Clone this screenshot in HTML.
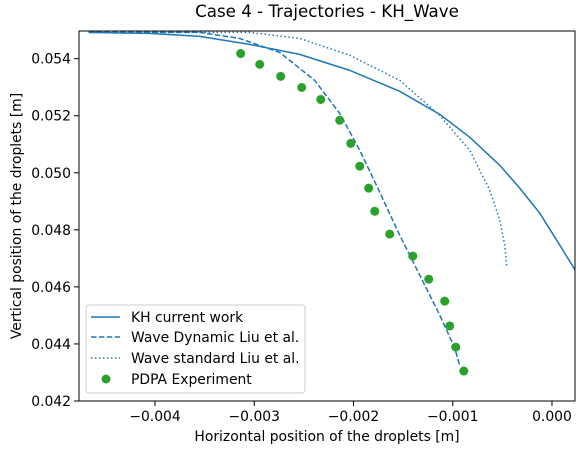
<!DOCTYPE html>
<html><head><meta charset="utf-8"><style>
body{margin:0;background:#fff;}
svg{display:block;font-family:"DejaVu Sans","Liberation Sans",sans-serif;}
</style></head><body>
<svg id="chart" width="585" height="453">
<text x="327" y="17" font-size="16.7" text-anchor="middle">Case 4 - Trajectories - KH_Wave</text>
<text x="327" y="441" font-size="13.9" text-anchor="middle">Horizontal position of the droplets [m]</text>
<text transform="translate(21,216) rotate(-90)" font-size="13.9" text-anchor="middle">Vertical position of the droplets [m]</text>
<g id="plot"></g>
<g font-size="13.9">
<rect x="86" y="305" width="219" height="88" rx="3" fill="#fff" fill-opacity="0.8" stroke="#ccc"/>
<line x1="91" y1="317" x2="120" y2="317" stroke="#1f77b4" stroke-width="1.5"/>
<text x="131" y="322">KH current work</text>
<line x1="91" y1="337" x2="120" y2="337" stroke="#1f77b4" stroke-width="1.5" stroke-dasharray="5.5 2.4"/>
<text x="131" y="342">Wave Dynamic Liu et al.</text>
<line x1="91" y1="358" x2="120" y2="358" stroke="#1f77b4" stroke-width="1.5" stroke-dasharray="1.5 2.5"/>
<text x="131" y="363">Wave standard Liu et al.</text>
<circle cx="106" cy="379" r="4.5" fill="#2ca02c"/>
<text x="131" y="384">PDPA Experiment</text>
</g>
</svg>
<script>
const xTicks=[-0.004,-0.003,-0.002,-0.001,0.000];
const xTickLabels=["\u22120.004","\u22120.003","\u22120.002","\u22120.001","0.000"];
const yTicks=[0.042,0.044,0.046,0.048,0.050,0.052,0.054];
const yTickLabels=["0.042","0.044","0.046","0.048","0.050","0.052","0.054"];
const khX=[-0.004669,-0.004054,-0.003550,-0.003046,-0.002542,-0.002038,-0.001534,-0.001131,-0.000828,-0.000526,-0.000324,-0.000123,0.000079,0.000240];
const khY=[0.054920,0.054885,0.054780,0.054500,0.054150,0.053590,0.052854,0.052049,0.051244,0.050263,0.049458,0.048583,0.047462,0.046552];
const wdX=[-0.004669,-0.003550,-0.003147,-0.002744,-0.002391,-0.002139,-0.001937,-0.001736,-0.001534,-0.001332,-0.001131,-0.000980,-0.000929];
const wdY=[0.05492,0.05492,0.05471,0.05422,0.05324,0.05208,0.05079,0.04932,0.04781,0.04641,0.04501,0.04386,0.04323];
const wsX=[-0.004669,-0.003046,-0.002542,-0.002038,-0.001534,-0.001131,-0.000828,-0.000627,-0.000526,-0.000476,-0.000455];
const wsY=[0.05492,0.05492,0.05471,0.05412,0.05324,0.05201,0.05079,0.04939,0.04834,0.04746,0.04666];
const expX=[-0.003137,-0.002945,-0.002734,-0.002522,-0.002330,-0.002139,-0.002028,-0.001937,-0.001847,-0.001786,-0.001635,-0.001403,-0.001242,-0.001081,-0.001030,-0.000970,-0.000889];
const expY=[0.05418,0.0538,0.05338,0.05299,0.05257,0.05184,0.05103,0.05023,0.04946,0.04865,0.04785,0.04708,0.04627,0.0455,0.04463,0.04389,0.04305];

const L=79,R=575,T=31,B=401;
const X0=-0.004766,X1=0.000232,Y0=0.042,Y1=0.05497;
const sx=v=>L+(v-X0)/(X1-X0)*(R-L);
const sy=v=>B-(v-Y0)/(Y1-Y0)*(B-T);
const NS="http://www.w3.org/2000/svg";
const g=document.getElementById('plot');
function mk(tag,attrs,parent){const e=document.createElementNS(NS,tag);for(const k in attrs)e.setAttribute(k,attrs[k]);(parent||g).appendChild(e);return e;}
const clip=mk('clipPath',{id:'cp'});mk('rect',{x:L,y:T,width:R-L,height:B-T},clip);

function line(xs,ys,dash,name){
  const d=xs.map((x,i)=>(i?'L':'M')+sx(x).toFixed(2)+' '+sy(ys[i]).toFixed(2)).join(' ');
  const p=mk('path',{d:d,fill:'none',stroke:'#1f77b4','stroke-width':1.5,'stroke-dasharray':dash,'clip-path':'url(#cp)'});
  
  
}
line(khX,khY,'none','kh-current-work-line');
line(wdX,wdY,'5.5 2.4','wave-dynamic-line');
line(wsX,wsY,'1.5 2.5','wave-standard-line');
expX.forEach((x,i)=>{
  const c=mk('circle',{cx:sx(x),cy:sy(expY[i]),r:4.5,fill:'#2ca02c'});
  
  
});
const frame=mk('rect',{x:L,y:T,width:R-L,height:B-T,fill:'none',stroke:'#000','stroke-width':1});


xTicks.forEach((v,i)=>{
  const x=sx(v);
  mk('line',{x1:x,x2:x,y1:B,y2:B+5,stroke:'#000'});
  const t=mk('text',{x:x,y:B+20,'font-size':13.9,'text-anchor':'middle',fill:'#000'});t.textContent=xTickLabels[i];
  
  
});
yTicks.forEach((v,i)=>{
  const y=sy(v);
  mk('line',{x1:L-5,x2:L,y1:y,y2:y,stroke:'#000'});
  const t=mk('text',{x:L-8,y:y+5,'font-size':13.9,'text-anchor':'end',fill:'#000'});t.textContent=yTickLabels[i];
  
  
});
</script>
</body></html>
